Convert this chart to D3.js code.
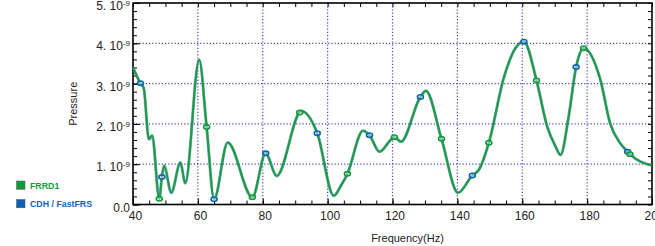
<!DOCTYPE html>
<html>
<head>
<meta charset="utf-8">
<script src="https://cdn.jsdelivr.net/npm/d3@7"></script>
<style>
  body { margin: 0; background: #fff; }
  svg { display: block; font-family: "Liberation Sans", Arial, sans-serif; }
</style>
</head>
<body>
<div id="chart"></div>
<script>
// pressure values are in units of 1e-9
const curveHz = [40.0, 42.3, 43.3, 44.9, 45.9, 48.1, 48.9, 49.6, 51.8, 54.6, 56.1, 60.4, 62.7, 65.0,
  69.2, 76.8, 80.9, 84.3, 91.9, 96.8, 101.9, 104.2, 106.1, 110.9, 112.9, 116.0, 120.6, 122.6,
  128.6, 130.3, 135.1, 140.2, 144.6, 146.6, 149.7, 154.4, 157.9, 160.5, 164.4, 167.7, 170.2,
  171.8, 174.3, 176.6, 178.9, 184.1, 187.1, 190.2, 192.5, 193.2, 200.0]
const curveP = [3.40, 3.01, 2.89, 1.62, 1.71, 0.14, 0.68, 0.96, 0.29, 1.04, 0.53, 3.59, 1.92, 0.13,
  1.54, 0.18, 1.27, 0.71, 2.32, 1.77, 0.22, 0.48, 0.76, 1.83, 1.72, 1.31, 1.67, 1.56,
  2.67, 2.82, 1.63, 0.29, 0.72, 0.86, 1.53, 3.17, 3.88, 4.04, 3.08, 1.93, 1.45,
  1.23, 2.18, 3.41, 3.88, 3.09, 2.01, 1.52, 1.31, 1.25, 0.97]

const frrdHz = [48.1, 62.7, 76.8, 91.4, 106.1, 120.6, 135.1, 149.7, 164.4, 178.9, 193.2]
const frrdP = [0.14, 1.92, 0.18, 2.28, 0.76, 1.67, 1.63, 1.53, 3.08, 3.88, 1.25]
const cdhHz = [42.3, 48.9, 65.0, 80.9, 96.8, 112.9, 128.6, 144.6, 160.5, 176.6, 192.5]
const cdhP = [3.01, 0.68, 0.13, 1.27, 1.77, 1.72, 2.67, 0.72, 4.04, 3.41, 1.31]

const xTicks = [40, 60, 80, 100, 120, 140, 160, 180, 200]
const yTicks = [0, 1, 2, 3, 4, 5]
const legendNames = ["FRRD1", "CDH / FastFRS"]
const legendColors = ["#119a3c", "#0d62b3"]

const W = 655, H = 246
const pLeft = 133, pRight = 652, pTop = 3, pBottom = 204.5

const svg = d3.select("#chart").append("svg")
    .attr("width", W)
    .attr("height", H)

const x = d3.scaleLinear().domain([40, 200]).range([pLeft, pRight])
const y = d3.scaleLinear().domain([0, 5]).range([pBottom, pTop])

// grid
const grid = svg.append("g")
    .attr("stroke", "#4848b0")
    .attr("stroke-width", 1.2)
    .attr("stroke-dasharray", "1.2,2")
grid.selectAll("line.v")
    .data(xTicks.slice(1, -1))
    .enter().append("line")
    .attr("x1", d => x(d)).attr("x2", d => x(d))
    .attr("y1", pTop).attr("y2", pBottom)
grid.selectAll("line.h")
    .data(yTicks.slice(1, -1))
    .enter().append("line")
    .attr("x1", pLeft).attr("x2", pRight)
    .attr("y1", d => y(d)).attr("y2", d => y(d))

// minor ticks every 5 Hz and 0.2e-9
const xMinor = d3.range(40, 201, 5)
const yMinor = d3.range(0, 5.01, 0.2)

svg.append("g").attr("transform", `translate(0,${pBottom})`)
    .call(d3.axisBottom(x).tickValues(xMinor).tickSize(-4).tickFormat(""))
svg.append("g").attr("transform", `translate(0,${pTop})`)
    .call(d3.axisTop(x).tickValues(xMinor).tickSize(-4).tickFormat(""))
svg.append("g").attr("transform", `translate(${pLeft},0)`)
    .call(d3.axisLeft(y).tickValues(yMinor).tickSize(-4).tickFormat(""))
svg.append("g").attr("transform", `translate(${pRight},0)`)
    .call(d3.axisRight(y).tickValues(yMinor).tickSize(-4).tickFormat(""))

// major ticks with labels
const xAx = svg.append("g").attr("transform", `translate(0,${pBottom})`)
    .call(d3.axisBottom(x).tickValues(xTicks).tickSize(-6).tickPadding(7))
xAx.selectAll("text").attr("font-size", 12).attr("fill", "#222").attr("dx", 2)
    .attr("font-family", "Liberation Sans, Arial, sans-serif")

const yAx = svg.append("g").attr("transform", `translate(${pLeft},0)`)
    .call(d3.axisLeft(y).tickValues(yTicks).tickSize(-7).tickPadding(3).tickFormat(""))
yAx.selectAll(".tick text").each(function(d) {
  const t = d3.select(this)
    .attr("font-size", 12).attr("fill", "#222")
    .attr("font-family", "Liberation Sans, Arial, sans-serif")
    .attr("dy", "0.55em")
  if (d === 0) { t.text("0.0"); return }
  t.append("tspan").text(d + ". 10")
  t.append("tspan").attr("dy", "-0.5em").attr("font-size", 8).text("-9")
})
svg.selectAll(".domain").remove()

// frame
svg.append("rect")
    .attr("x", pLeft).attr("y", pTop)
    .attr("width", pRight - pLeft).attr("height", pBottom - pTop)
    .attr("fill", "none").attr("stroke", "#000").attr("stroke-width", 1.6)

// titles
svg.append("text")
    .attr("x", (pLeft + pRight) / 2 + 15).attr("y", 242)
    .attr("text-anchor", "middle").attr("font-size", 11).attr("fill", "#222")
    .text("Frequency(Hz)")
svg.append("text")
    .attr("transform", `translate(77,${(pTop + pBottom) / 2}) rotate(-90)`)
    .attr("text-anchor", "middle").attr("font-size", 11).attr("fill", "#222")
    .text("Pressure")

// curves
const pts = curveHz.map((f, i) => [f, curveP[i]])
const line = d3.line()
    .x(d => x(d[0]))
    .y(d => y(d[1]))
    .curve(d3.curveMonotoneX)

svg.append("path").datum(pts)
    .attr("d", line)
    .attr("fill", "none")
    .attr("stroke", legendColors[1])
    .attr("stroke-opacity", 0.5)
    .attr("stroke-width", 3)
svg.append("path").datum(pts)
    .attr("d", line)
    .attr("fill", "none")
    .attr("stroke", "#1f9c40")
    .attr("stroke-width", 2.1)

// markers
svg.append("g").selectAll("ellipse")
    .data(cdhHz.map((f, i) => [f, cdhP[i]]))
    .enter().append("ellipse")
    .attr("cx", d => x(d[0])).attr("cy", d => y(d[1]))
    .attr("rx", 3).attr("ry", 2.2)
    .attr("fill", "#fff").attr("fill-opacity", 0.4)
    .attr("stroke", legendColors[1]).attr("stroke-width", 1.6)
svg.append("g").selectAll("ellipse")
    .data(frrdHz.map((f, i) => [f, frrdP[i]]))
    .enter().append("ellipse")
    .attr("cx", d => x(d[0])).attr("cy", d => y(d[1]))
    .attr("rx", 3).attr("ry", 2.2)
    .attr("fill", "#fff").attr("fill-opacity", 0.4)
    .attr("stroke", legendColors[0]).attr("stroke-width", 1.6)

// legend
const leg = svg.append("g")
leg.selectAll("rect")
    .data(legendNames)
    .enter().append("rect")
    .attr("x", 16.5).attr("y", (d, i) => 181 + i * 18.5)
    .attr("width", 8.5).attr("height", 8.3)
    .attr("fill", (d, i) => legendColors[i])
    .attr("stroke", "#555").attr("stroke-width", 0.5)
leg.selectAll("text")
    .data(legendNames)
    .enter().append("text")
    .attr("x", 30).attr("y", (d, i) => 188.8 + i * 18.5)
    .attr("font-size", 8.8).attr("font-weight", "bold")
    .attr("fill", (d, i) => legendColors[i])
    .text(d => d)
</script>
</body>
</html>
